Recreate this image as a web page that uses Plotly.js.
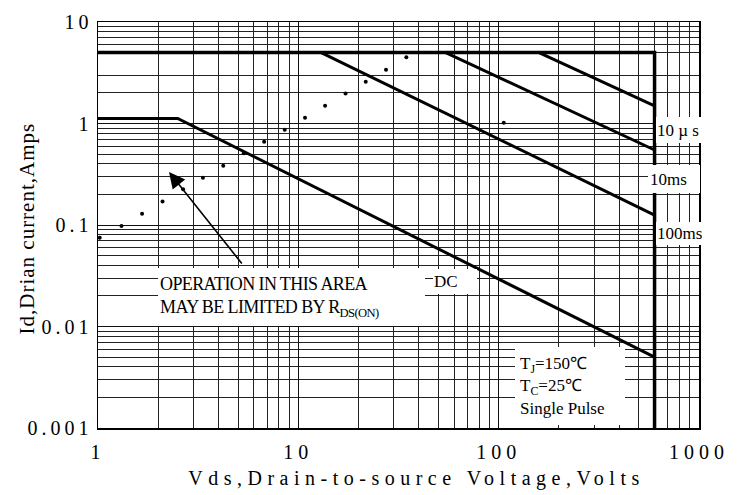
<!DOCTYPE html>
<html><head><meta charset="utf-8">
<script src="https://cdn.plot.ly/plotly-3.0.1.min.js"></script>
<style>
body{margin:0;background:#fff}
#chart{width:742px;height:495px}
.xtick text{letter-spacing:5px}
.ytick text{letter-spacing:4px}
.annotation[data-index="0"] text{letter-spacing:5.5px}
.annotation[data-index="1"] text{letter-spacing:1px}
.annotation[data-index="2"] text{letter-spacing:-0.6px}
</style></head><body><div id="chart"></div>
<script>
// ---- data ----
const xDecades = [1, 10, 100, 1000];
const xDecadeLabels = ['1', '10', '100', '1000'];
const yDecades = [0.001, 0.01, 0.1, 1, 10];
const yDecadeLabels = ['0.001', '0.01', '0.1', '1', '10'];

// current limit (5 A) and voltage limit (600 V)
const limitV = [1, 600, 600];
const limitI = [5, 5, 0.001];
// DC line
const dcV = [1, 2.5, 600];
const dcI = [1.12, 1.12, 0.005];
// 100ms, 10ms, 10us pulse lines
const p100msV = [13, 600];
const p100msI = [5, 0.125];
const p10msV = [54.4, 600];
const p10msI = [5, 0.548];
const p10usV = [159, 600];
const p10usI = [5, 1.49];
// RDS(on) dotted limit
const rdsV = [1.02, 1.31, 1.66, 2.10, 2.66, 3.34, 4.22, 5.34, 6.75, 8.55, 10.8, 13.6, 17.2, 21.7, 27.4, 34.6, 106];
const rdsI = [0.075, 0.098, 0.129, 0.170, 0.225, 0.292, 0.384, 0.508, 0.662, 0.869, 1.14, 1.50, 1.97, 2.58, 3.39, 4.49, 1.02];

// ---- minor gridlines (2..9 of each decade) ----
const xMinor = [];
xDecades.slice(0, 3).forEach(d => { for (let k = 2; k <= 9; k++) xMinor.push(k * d); });
const yMinor = [];
yDecades.slice(0, 4).forEach(d => { for (let k = 2; k <= 9; k++) { if (d === 1 && k === 4) continue; yMinor.push(k * d); } });

// ---- geometry helpers (pixel -> paper) ----
const L = 98, R = 43, T = 22, B = 67, W = 742, H = 495;
const pw = W - L - R, ph = H - T - B;
const X = px => (px - L) / pw;
const Y = py => (H - B - py) / ph;
const FONT = 'Liberation Serif, Times New Roman, serif';

const line = (x, y, w) => ({x, y, type: 'scatter', mode: 'lines', line: {color: '#000', width: w}, hoverinfo: 'skip', showlegend: false});
const traces = [
  line(limitV, limitI, 3.5),
  line(dcV, dcI, 3),
  line(p100msV, p100msI, 3),
  line(p10msV, p10msI, 3),
  line(p10usV, p10usI, 3),
  {x: rdsV, y: rdsI, type: 'scatter', mode: 'markers', marker: {color: '#000', size: 4}, showlegend: false, hoverinfo: 'skip'}
];

// white-backed label box: left/top pixel corner, box width/height, text size
const boxed = (text, x0, x1, y0, y1, size, pad) => ({text, xref: 'paper', yref: 'paper', x: X(x0), y: Y(y0),
  xanchor: 'left', yanchor: 'top', align: 'left', valign: 'middle', showarrow: false,
  bgcolor: '#fff', borderwidth: 0, borderpad: pad, width: (x1 - x0) - 2 * pad, height: (y1 - y0) - 2 * pad,
  font: {family: FONT, size, color: '#000'}});

const annotations = [
  {text: 'Vds,Drain-to-source Voltage,Volts', xref: 'paper', yref: 'paper', x: X(416), y: Y(478), xanchor: 'center', yanchor: 'middle', showarrow: false, font: {family: FONT, size: 20, color: '#000'}},
  {text: 'Id,Drian current,Amps', xref: 'paper', yref: 'paper', x: X(27), y: Y(229), xanchor: 'center', yanchor: 'middle', textangle: -90, showarrow: false, font: {family: FONT, size: 21, color: '#000'}},
  boxed('OPERATION IN THIS AREA<br>MAY BE LIMITED BY R<sub>DS(ON)</sub>', 158, 425, 268, 326, 18, 2),
  boxed('DC', 433, 477, 269, 294, 17, 1),
  boxed('10 µ s', 656, 702, 117, 143, 17, 1),
  boxed('10ms', 648, 700, 165, 193, 17, 2),
  boxed('100ms', 656, 706, 222, 245, 17, 1),
  boxed('T<sub>J</sub>=150℃<br>T<sub>C</sub>=25℃<br>Single Pulse', 515, 625, 347, 425, 17, 5),
  {text: '', xref: 'paper', yref: 'paper', x: X(169), y: Y(172), ax: 74, ay: 93, showarrow: true,
   arrowhead: 2, arrowsize: 2, arrowwidth: 1.6, arrowcolor: '#000', standoff: 0}
];

const axisCommon = {type: 'log', tickmode: 'array', showgrid: true, gridcolor: '#111', gridwidth: 1,
  showline: true, mirror: true, linecolor: '#000', linewidth: 1.5, ticks: '', zeroline: false,
  tickfont: {family: FONT, size: 20, color: '#000'}};

const layout = {
  width: W, height: H, autosize: false,
  margin: {l: L, r: R, t: T, b: B, pad: 0},
  paper_bgcolor: '#fff', plot_bgcolor: '#fff',
  showlegend: false,
  xaxis: Object.assign({}, axisCommon, {range: [0, 3], tickvals: xDecades, ticktext: xDecadeLabels, ticklabelstandoff: 5,
    minor: {tickmode: 'array', tickvals: xMinor, showgrid: true, gridcolor: '#222', gridwidth: 1, ticks: ''}}),
  yaxis: Object.assign({}, axisCommon, {range: [-3, 1], tickvals: yDecades, ticktext: yDecadeLabels, ticklabelstandoff: 0,
    minor: {tickmode: 'array', tickvals: yMinor, showgrid: true, gridcolor: '#222', gridwidth: 1, ticks: ''}}),
  annotations
};

Plotly.newPlot('chart', traces, layout, {staticPlot: true, displayModeBar: false});
</script></body></html>
